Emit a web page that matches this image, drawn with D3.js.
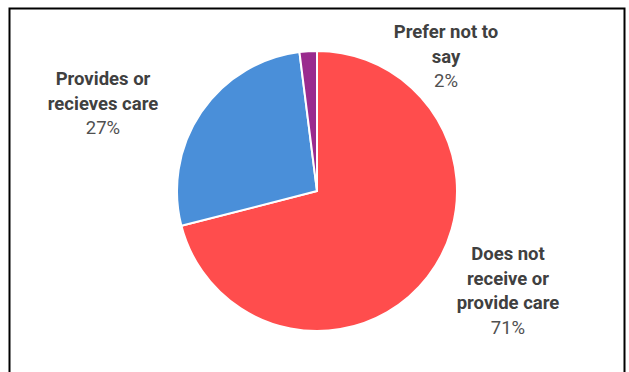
<!DOCTYPE html>
<html>
<head>
<meta charset="utf-8">
<script src="https://cdn.jsdelivr.net/npm/d3@7"></script>
<style>
  html, body { margin: 0; padding: 0; background: #fff; }
  svg { display: block; }
  .lbl { font-family: Roboto, "Noto Sans", sans-serif; fill: #404040; font-size: 18.5px; }
  .lbl .name { font-weight: bold; }
  .lbl .pct { fill: #505050; }
</style>
</head>
<body>
<svg id="chart" width="629" height="372"></svg>
<script>
// Care status of respondents (percent of total)
const categories = ["Does not receive or provide care", "Provides or recieves care", "Prefer not to say"];
const values = [71, 27, 2];
const colors = ["#FF4D4D", "#4A8FD9", "#9A2B8E"];
// Label text, one entry per line of the category name
const labelLines = [
  ["Does not", "receive or", "provide care"],
  ["Provides or", "recieves care"],
  ["Prefer not to", "say"]
];
// Anchor of each label block (centre x, baseline of first line)
const labelAnchors = [[508, 260], [103, 85], [446, 38]];

const svg = d3.select("#chart");

// chart frame
svg.append("rect")
  .attr("x", 9.5).attr("y", 8.5)
  .attr("width", 615).attr("height", 372)
  .attr("fill", "none").attr("stroke", "#000").attr("stroke-width", 2);

const cx = 317, cy = 191, r = 140;

const pie = d3.pie().sort(null).value(d => d.value)
  .startAngle(0).endAngle(2 * Math.PI);
const arcs = pie(categories.map((c, i) => ({ name: c, value: values[i], color: colors[i] })));
const arc = d3.arc().innerRadius(0).outerRadius(r);

const g = svg.append("g").attr("transform", `translate(${cx},${cy})`);
g.selectAll("path").data(arcs).join("path")
  .attr("d", arc)
  .attr("fill", d => d.data.color)
  .attr("stroke", "#fff")
  .attr("stroke-width", 2)
  .attr("stroke-linejoin", "round");

// data labels: bold category name, then percentage
const lineH = 24.5;
arcs.forEach((d, i) => {
  const [x, y] = labelAnchors[i];
  const t = svg.append("text").attr("class", "lbl").attr("text-anchor", "middle");
  const lines = labelLines[i];
  lines.forEach((ln, k) => {
    t.append("tspan").attr("class", "name").attr("x", x).attr("y", y + k * lineH).text(ln);
  });
  t.append("tspan").attr("class", "pct").attr("x", x).attr("y", y + lines.length * lineH)
    .text(d3.format(".0f")(values[i]) + "%");
});
</script>
</body>
</html>
